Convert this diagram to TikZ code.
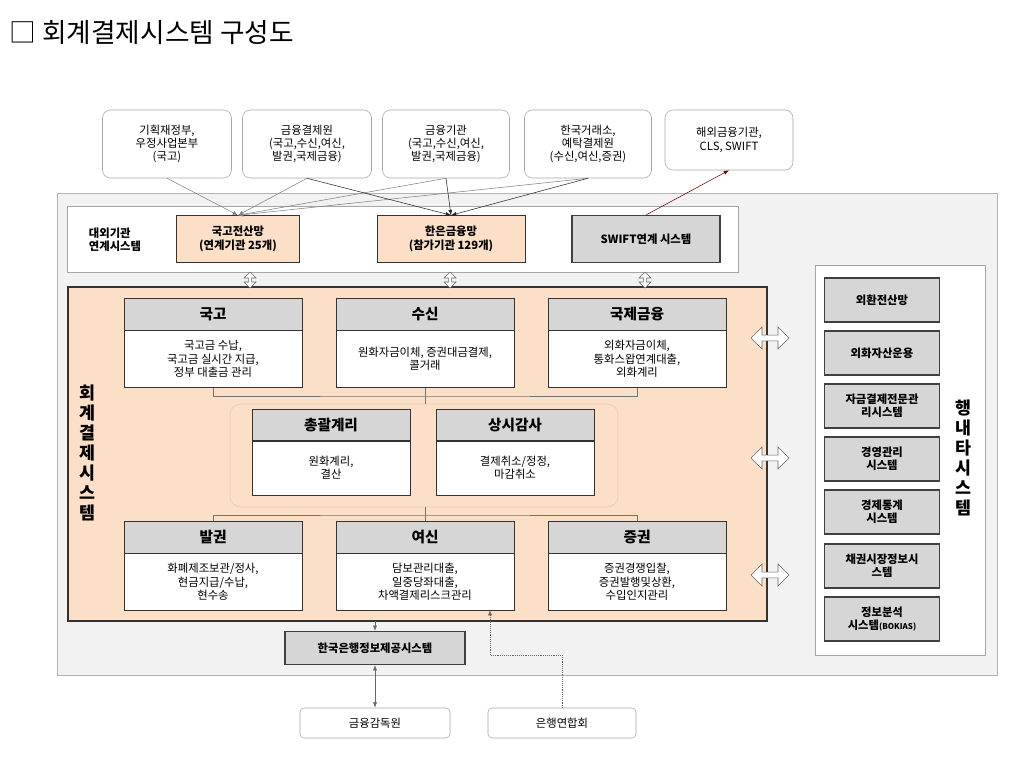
\documentclass[tikz,border=0pt]{standalone}
\usepackage{fontspec}
\setmainfont{Noto Sans CJK KR}
\usetikzlibrary{positioning,shapes.arrows,arrows.meta}
\definecolor{peach}{HTML}{FBDFC6}
\definecolor{boxgray}{HTML}{D6D6D6}
\definecolor{bggray}{HTML}{F2F2F2}
\tikzset{
  px/.style={x=0.75pt,y=-0.75pt},
  ext/.style={draw=gray!70,rounded corners=6pt,fill=white,align=center,font=\fontsize{8.5}{10}\selectfont,inner sep=1pt},
  net/.style={draw=black!80,fill=peach,align=center,font=\bfseries\fontsize{8.5}{10}\selectfont,inner sep=1pt},
  sys/.style={draw=black!75,line width=0.8pt,fill=boxgray,align=center,font=\bfseries\fontsize{8.5}{10}\selectfont,inner sep=1pt,minimum width=0.75pt*115,minimum height=0.75pt*44},
  head/.style={draw=black!80,fill=boxgray,font=\bfseries\fontsize{11}{12}\selectfont,minimum width=0.75pt*178,minimum height=0.75pt*32,inner sep=0pt},
  body/.style={draw=black!80,fill=white,align=center,font=\fontsize{8.5}{10}\selectfont,minimum width=0.75pt*178,minimum height=0.75pt*57,inner sep=0pt},
  link/.style={draw=black!55,line width=0.5pt},
  hollow/.style={double arrow,draw=black!60,fill=white,double arrow head extend=2pt,minimum height=0.75pt*16,minimum width=0.75pt*12,inner sep=0.5pt},
}
\begin{document}
\begin{tikzpicture}[px]
\useasboundingbox (0,0) rectangle (1024,763);
\node[anchor=west,font=\fontsize{20}{22}\selectfont] (title) at (5,33) {□ 회계결제시스템 구성도};
% background areas
\draw[draw=gray!60,fill=bggray] (57,193) rectangle (997,675);
\draw[draw=gray!70,fill=white] (67,206) rectangle (738,272);
\node[align=left,font=\bfseries\fontsize{8.5}{10}\selectfont] (extlabel) at (115,240) {대외기관\\연계시스템};
\draw[draw=black!80,line width=1.2pt,fill=peach] (68,287) rectangle (767,621);
\node[align=center,font=\bfseries\fontsize{13}{15}\selectfont] (acclabel) at (87,453) {회\\계\\결\\제\\시\\스\\템};
\draw[draw=gray!70,fill=white] (815,265) rectangle (985,655);
\node[align=center,font=\bfseries\fontsize{13}{15}\selectfont] (inlabel) at (963,458) {행\\내\\타\\시\\스\\템};
\draw[draw=brown!40,rounded corners=8pt] (230,404) rectangle (618,507);

% outside institutions
\node[ext,minimum width=0.75pt*129,minimum height=0.75pt*68] (mof) at (167,144) {기획재정부,\\우정사업본부\\(국고)};
\node[ext,minimum width=0.75pt*129,minimum height=0.75pt*68] (kftc) at (307,144) {금융결제원\\(국고,수신,여신,\\발권,국제금융)};
\node[ext,minimum width=0.75pt*127,minimum height=0.75pt*68] (fin) at (446,144) {금융기관\\(국고,수신,여신,\\발권,국제금융)};
\node[ext,minimum width=0.75pt*127,minimum height=0.75pt*68] (krx) at (588,144) {한국거래소,\\예탁결제원\\(수신,여신,증권)};
\node[ext,minimum width=0.75pt*128,minimum height=0.75pt*60] (abroad) at (729,140) {해외금융기관,\\CLS, SWIFT};

% networks
\node[net,minimum width=0.75pt*123,minimum height=0.75pt*47] (gukgo) at (238,239) {국고전산망\\(연계기관 25개)};
\node[net,minimum width=0.75pt*148,minimum height=0.75pt*47] (bok) at (451,239) {한은금융망\\(참가기관 129개)};
\node[sys,minimum width=0.75pt*148,minimum height=0.75pt*47] (swift) at (646,239) {SWIFT연계 시스템};

\draw[-{Latex[length=4pt]},gray] (mof.south) -- (gukgo.north);
\draw[-{Latex[length=4pt]},gray] (kftc.south) -- (gukgo.north);
\draw[-{Latex[length=4pt]},gray] (fin.south) -- (gukgo.north);
\draw[-{Latex[length=4pt]},gray] (krx.south) -- (gukgo.north);
\draw[-{Latex[length=4pt]},black!85] (kftc.south) -- (bok.north);
\draw[-{Latex[length=4pt]},black!85] (fin.south) -- (bok.north);
\draw[-{Latex[length=4pt]},black!85] (krx.south) -- (bok.north);
\draw[-{Latex[length=4pt]},red!45!black] (swift.north) -- (abroad.south);

\node[hollow,rotate=90] (v1) at (250,280) {};
\node[hollow,rotate=90] (v2) at (450,280) {};
\node[hollow,rotate=90] (v3) at (645,280) {};

% modules, upper row
\node[head] (h1) at (213,314) {국고};
\node[body,below=0pt of h1] (b1) {국고금 수납,\\국고금 실시간 지급,\\정부 대출금 관리};
\node[head] (h2) at (425,314) {수신};
\node[body,below=0pt of h2] (b2) {원화자금이체, 증권대금결제,\\콜거래};
\node[head] (h3) at (637,314) {국제금융};
\node[body,below=0pt of h3] (b3) {외화자금이체,\\통화스왑연계대출,\\외화계리};

% modules, middle
\node[head,minimum width=0.75pt*158,minimum height=0.75pt*31] (h4) at (331,425) {총괄계리};
\node[body,minimum width=0.75pt*158,minimum height=0.75pt*54,below=0pt of h4] (b4) {원화계리,\\결산};
\node[head,minimum width=0.75pt*158,minimum height=0.75pt*31] (h5) at (515,425) {상시감사};
\node[body,minimum width=0.75pt*158,minimum height=0.75pt*54,below=0pt of h5] (b5) {결제취소/정정,\\마감취소};

% modules, lower row
\node[head] (h6) at (213,537) {발권};
\node[body,below=0pt of h6] (b6) {화폐제조보관/정사,\\현금지급/수납,\\현수송};
\node[head] (h7) at (425,537) {여신};
\node[body,below=0pt of h7] (b7) {담보관리대출,\\일중당좌대출,\\차액결제리스크관리};
\node[head] (h8) at (637,537) {증권};
\node[body,below=0pt of h8] (b8) {증권경쟁입찰,\\증권발행및상환,\\수입인지관리};

\draw[link] (b1.south) |- (425,396) -| (b3.south);
\draw[link] (b2.south) -- (425,404);
\draw[link] (425,507) -- (425,515);
\draw[link] (h6.north) |- (425,515) -| (h8.north);
\draw[link] (h7.north) -- (425,515);

% internal systems
\node[sys] (s1) at (882,300) {외환전산망};
\node[sys] (s2) at (882,353) {외화자산운용};
\node[sys] (s3) at (882,406) {자금결제전문관\\리시스템};
\node[sys] (s4) at (882,459) {경영관리\\시스템};
\node[sys] (s5) at (882,512) {경제통계\\시스템};
\node[sys] (s6) at (882,566) {채권시장정보시\\스템};
\node[sys] (s7) at (882,619) {정보분석\\시스템{\fontsize{6}{7}\selectfont(BOKIAS)}};

\node[hollow,minimum height=0.75pt*38,minimum width=0.75pt*22] (r1) at (770,338) {};
\node[hollow,minimum height=0.75pt*38,minimum width=0.75pt*22] (r2) at (770,458) {};
\node[hollow,minimum height=0.75pt*38,minimum width=0.75pt*22] (r3) at (770,575) {};

% information service and bottom
\node[sys,minimum width=0.75pt*180,minimum height=0.75pt*33] (info) at (375,648) {한국은행정보제공시스템};
\coordinate (accbot) at (375,621);
\draw[-{Latex[length=4pt]},black!60] (accbot) -- (info.north);
\node[ext,minimum width=0.75pt*150,minimum height=0.75pt*30,rounded corners=3pt] (fss) at (375,723) {금융감독원};
\node[ext,minimum width=0.75pt*148,minimum height=0.75pt*30,rounded corners=3pt] (kfb) at (562,723) {은행연합회};
\draw[{Latex[length=4pt]}-{Latex[length=4pt]},black!60] (info.south) -- (fss.north);
\coordinate (loanin) at (490,610);
\draw[-{Latex[length=4pt]},black!60,densely dotted] (kfb.north) |- (490,655) -- (loanin);
\end{tikzpicture}
\end{document}
